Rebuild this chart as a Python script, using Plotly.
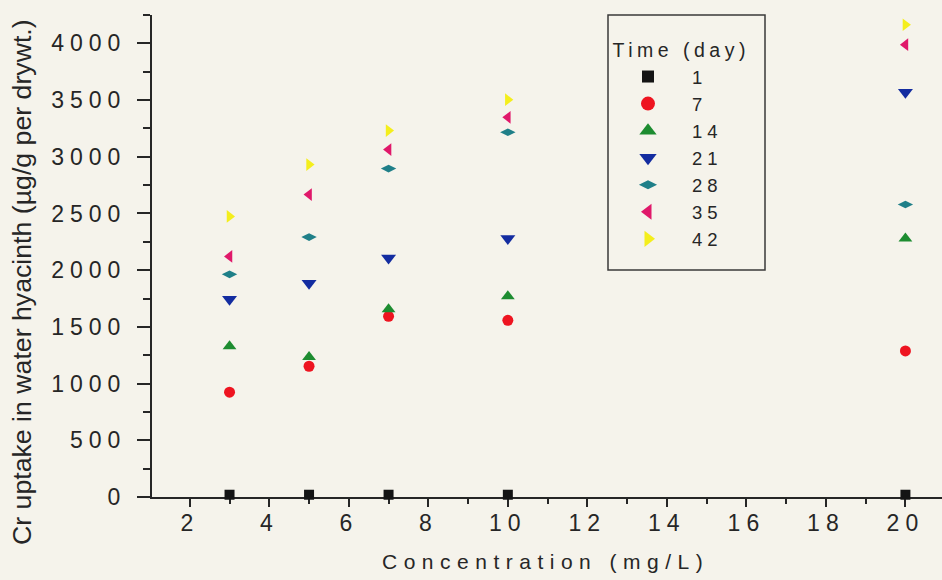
import plotly.graph_objects as go

# Cr uptake by water hyacinth at several exposure concentrations and times
conc = [3, 5, 7, 10, 20]  # mg/L
days = ["1", "7", "14", "21", "28", "35", "42"]
uptake_d1 = [20, 20, 20, 20, 20]
uptake_d7 = [924, 1153, 1593, 1558, 1288]
uptake_d14 = [1329, 1235, 1655, 1769, 2280]
uptake_d21 = [1743, 1884, 2107, 2280, 3568]
uptake_d28 = [1963, 2292, 2896, 3216, 2579]
uptake_d35 = [2121, 2667, 3063, 3348, 3988]
uptake_d42 = [2474, 2931, 3231, 3503, 4164]

series = [uptake_d1, uptake_d7, uptake_d14, uptake_d21,
          uptake_d28, uptake_d35, uptake_d42]
symbols = ["square", "circle", "triangle-up", "triangle-down",
           "diamond-wide", "triangle-left", "triangle-right"]
sizes = [10, 11, 12, 13, 11, 11, 11]
key_sizes = [12, 14, 15, 15, 13, 14, 14]
colors = ["#141414", "#ee1420", "#1d8c30", "#132ca0",
          "#1f7f88", "#e0186a", "#f4ee1c"]

W, H = 942, 580
ML, MR, MT, MB = 152, 0, 15, 83
FONT = "Liberation Sans, Arial, sans-serif"
INK = "#262626"
BG = "#f5f3eb"


def px_x(p):
    return (p - ML) / (W - ML - MR)


def px_y(p):
    return (H - MB - p) / (H - MT - MB)


fig = go.Figure()
for name, vals, sym, sz, col in zip(days, series, symbols, sizes, colors):
    fig.add_trace(go.Scatter(
        x=conc, y=vals, name=name, mode="markers", cliponaxis=False,
        legendgroup=name, showlegend=False,
        marker=dict(symbol=sym, size=sz, color=col, line=dict(width=0)),
    ))
# legend keys are drawn a little larger than the plotted points
for name, sym, sz, col in zip(days, symbols, key_sizes, colors):
    fig.add_trace(go.Scatter(
        x=[None], y=[None], name=name, mode="markers", legendgroup=name,
        marker=dict(symbol=sym, size=sz, color=col, line=dict(width=0)),
    ))

fig.update_layout(
    width=W, height=H,
    margin=dict(l=ML, r=MR, t=MT, b=MB, autoexpand=False),
    paper_bgcolor=BG, plot_bgcolor=BG,
    font=dict(family=FONT, color=INK, size=20),
    showlegend=True,
    legend=dict(
        x=px_x(604), y=px_y(58), xanchor="left", yanchor="top",
        bgcolor="rgba(0,0,0,0)", borderwidth=0,
        font=dict(size=18.5, family=FONT, color=INK),
        itemwidth=78, tracegroupgap=0,
    ),
    xaxis=dict(
        range=[1.05, 20.92], tick0=0, dtick=2,
        showline=True, linewidth=2, linecolor=INK, mirror=False,
        ticks="outside", ticklen=8, tickwidth=2, tickcolor=INK,
        minor=dict(dtick=1, ticks="outside", ticklen=5, tickwidth=2, tickcolor=INK),
        showgrid=False, zeroline=False, layer="below traces",
        tickfont=dict(size=23, family=FONT, color=INK),
        ticklabelstandoff=-4,
    ),
    yaxis=dict(
        range=[0, 4250], tick0=0, dtick=500,
        showline=True, linewidth=2, linecolor=INK, mirror=False,
        ticks="outside", ticklen=13, tickwidth=2, tickcolor=INK,
        minor=dict(dtick=250, ticks="outside", ticklen=7, tickwidth=2, tickcolor=INK),
        showgrid=False, zeroline=False, layer="below traces",
        tickfont=dict(size=23, family=FONT, color=INK),
        ticklabelstandoff=6,
    ),
    annotations=[
        dict(text="Concentration (mg/L)", xref="paper", yref="paper",
             x=px_x(545), y=px_y(561), xanchor="center", yanchor="middle",
             showarrow=False, font=dict(size=21, family=FONT, color=INK)),
        dict(text="Cr uptake in water hyacinth (µg/g per drywt.)",
             xref="paper", yref="paper", x=px_x(22), y=px_y(282),
             xanchor="center", yanchor="middle", textangle=-90,
             showarrow=False, font=dict(size=26.7, family=FONT, color=INK)),
        dict(text="Time (day)", xref="paper", yref="paper",
             x=px_x(681), y=px_y(50), xanchor="center", yanchor="middle",
             showarrow=False, font=dict(size=19.5, family=FONT, color=INK)),
    ],
    shapes=[
        dict(type="rect", xref="paper", yref="paper",
             x0=px_x(608), x1=px_x(765), y0=px_y(270), y1=px_y(15),
             line=dict(color="#3a3a3a", width=1.5), fillcolor="rgba(0,0,0,0)"),
    ],
)

# Widen the character spacing of the axis and legend lettering
spacing_js = """
var gd = document.getElementById('{plot_id}');
function spaceOut(sel, px) {
  gd.querySelectorAll(sel).forEach(function (t) { t.style.letterSpacing = px + 'px'; });
}
spaceOut('.xtick text', 6);
spaceOut('.ytick text', 6);
spaceOut('.legendtext', 5);
gd.querySelectorAll('.annotation-text').forEach(function (t) {
  var s = t.textContent;
  if (s.indexOf('Concentration') === 0) { t.style.letterSpacing = '6.5px'; }
  if (s.indexOf('Time') === 0) { t.style.letterSpacing = '4.5px'; }
});
"""

fig.write_html("out.html", post_script=spacing_js)
